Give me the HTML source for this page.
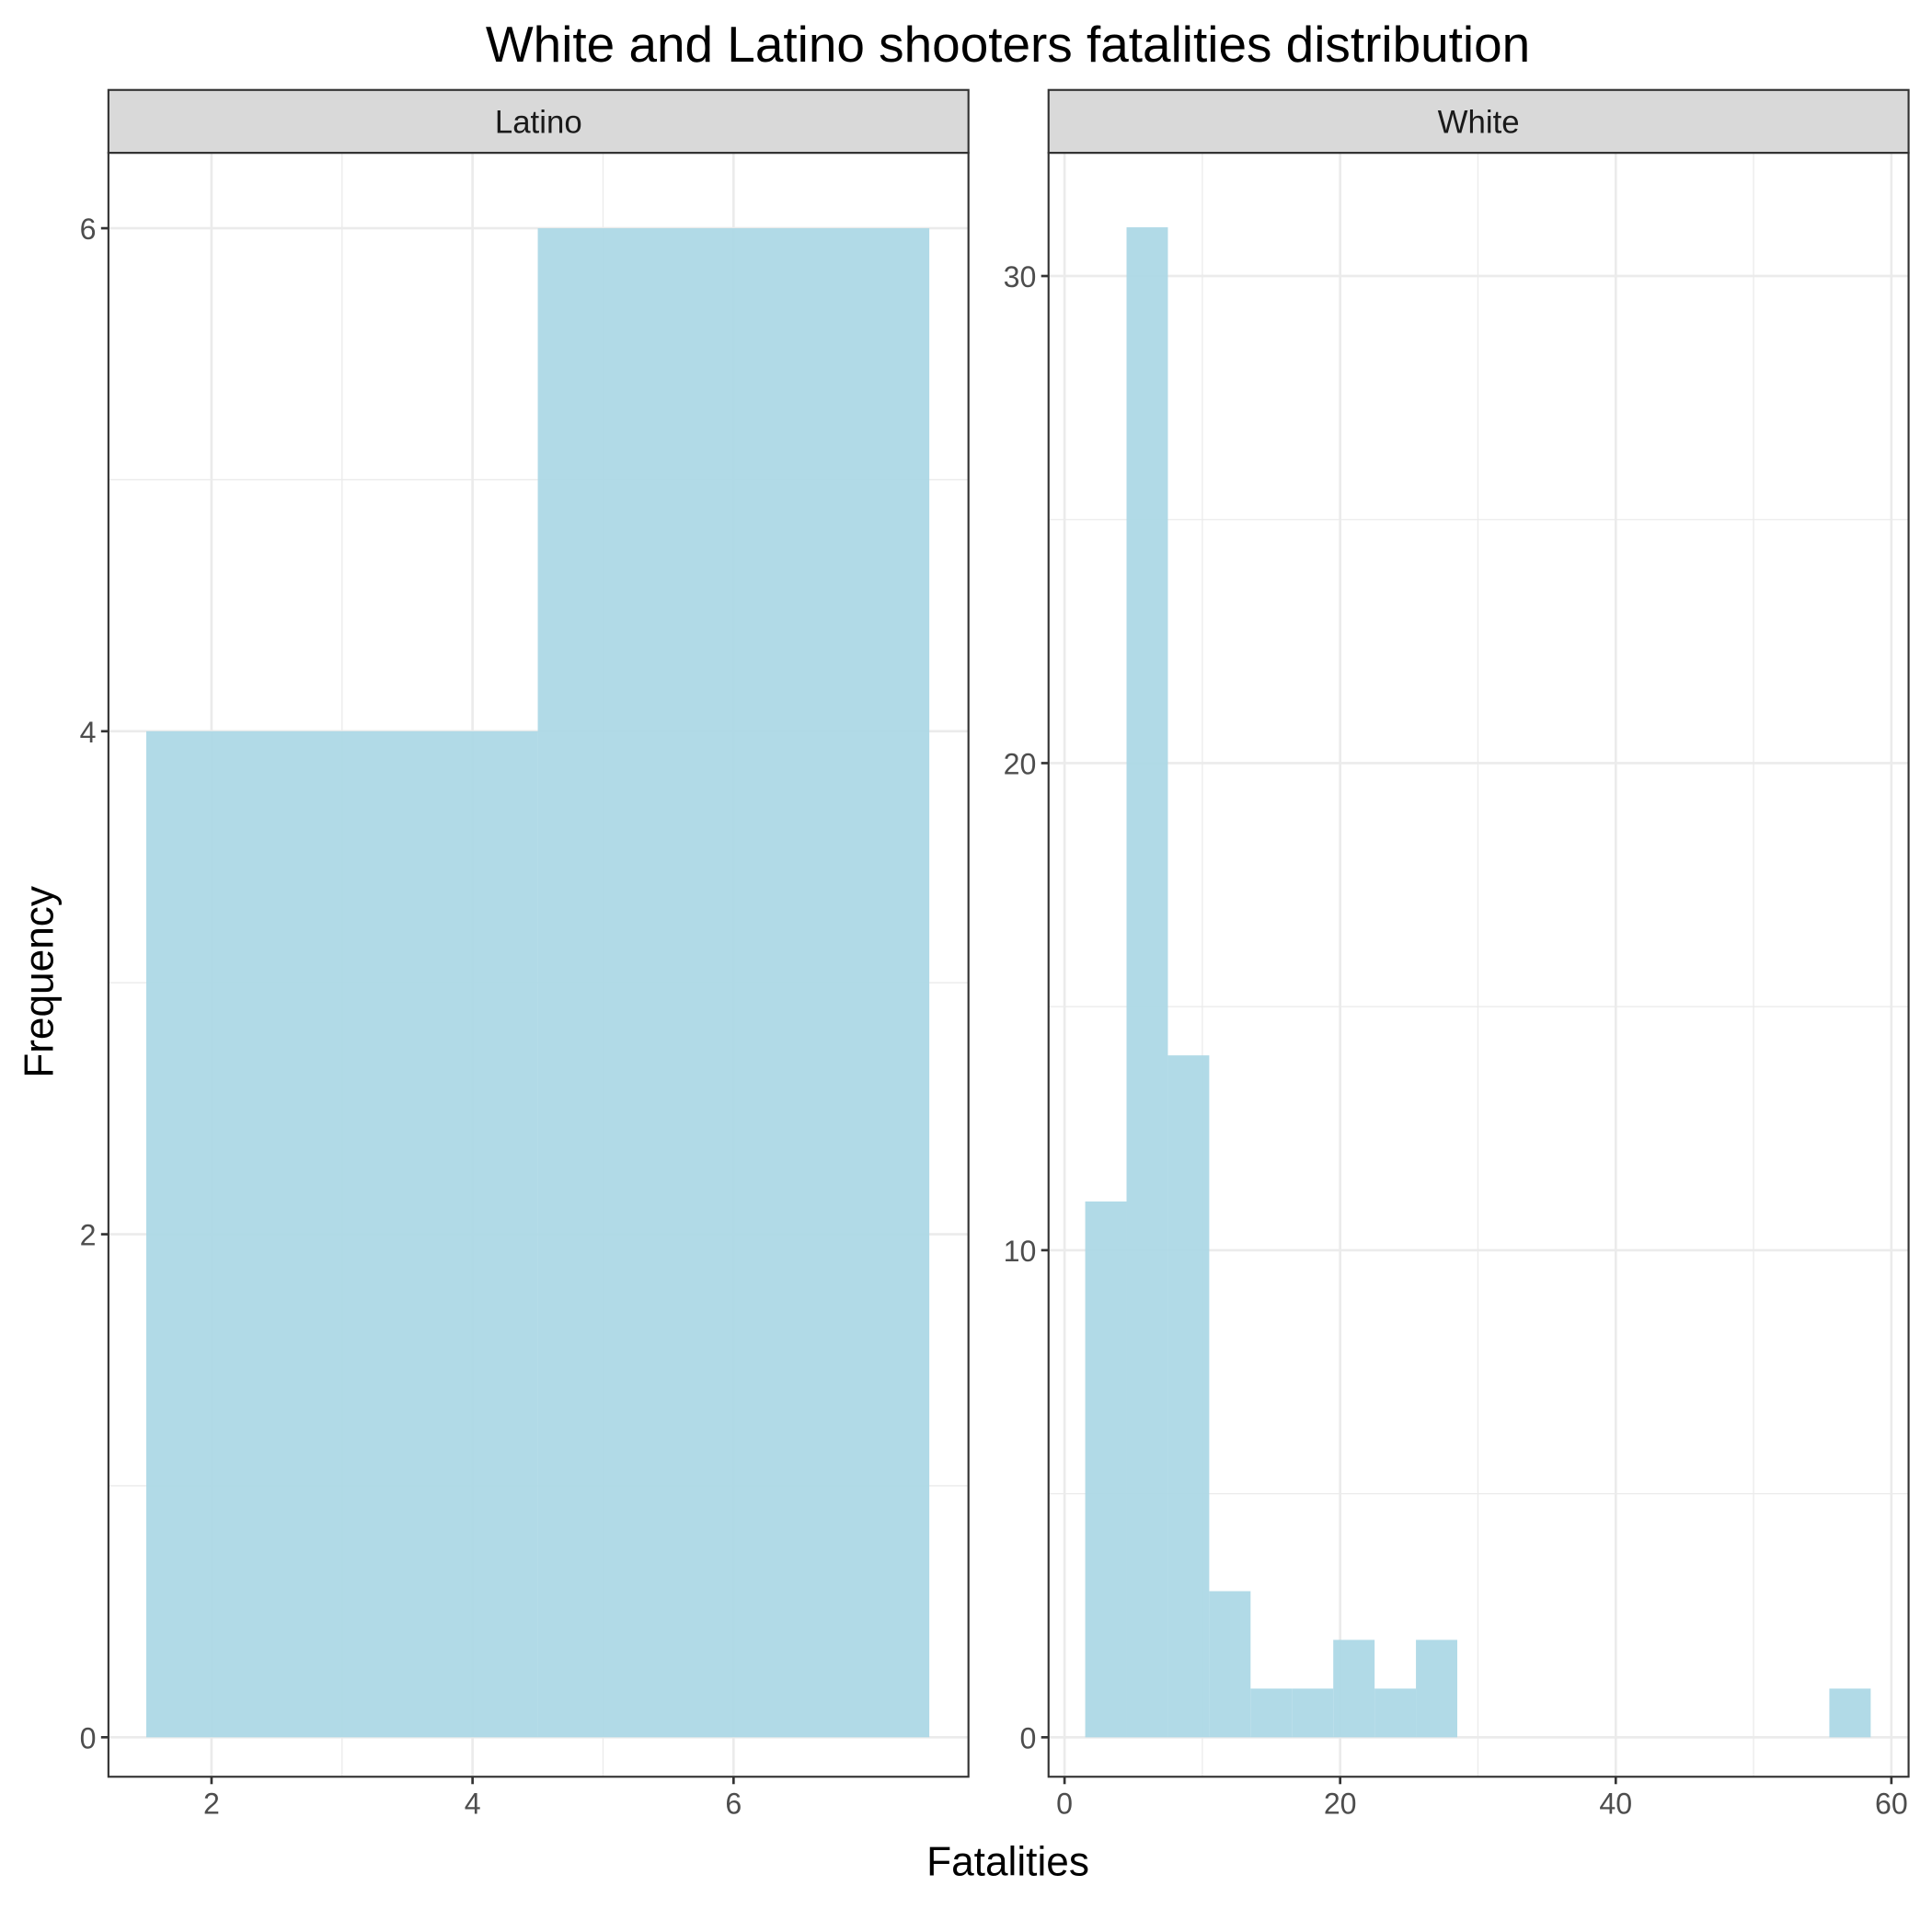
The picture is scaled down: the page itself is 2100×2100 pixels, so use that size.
<!DOCTYPE html>
<html><head><meta charset="utf-8"><style>html,body{margin:0;padding:0;background:#fff}svg{display:block}text{font-family:"Liberation Sans",sans-serif}</style></head>
<body>
<svg id="chart" width="2100" height="2100" viewBox="0 0 1568 1568" xmlns="http://www.w3.org/2000/svg">
<text x="818" y="50" font-size="41" text-anchor="middle" fill="#000">White and Latino shooters fatalities distribution</text>
<text x="818" y="1522" font-size="33" text-anchor="middle" fill="#000">Fatalities</text>
<text x="0" y="0" font-size="33" text-anchor="middle" fill="#000" transform="translate(43,797) rotate(-90)">Frequency</text>
<g id="panels"></g>
</svg>
<script>
const latinoBinStarts = [1.5, 4.5];
const latinoCounts = [4, 6];
const latinoBinWidth = 3;
const latinoXTicks = [2, 4, 6];
const latinoYTicks = [0, 2, 4, 6];
const whiteBinStarts = [1.5, 4.5, 7.5, 10.5, 13.5, 16.5, 19.5, 22.5, 25.5, 55.5];
const whiteCounts = [11, 31, 14, 3, 1, 1, 2, 1, 2, 1];
const whiteBinWidth = 3;
const whiteXTicks = [0, 20, 40, 60];
const whiteYTicks = [0, 10, 20, 30];

const NS = 'http://www.w3.org/2000/svg';
const root = document.getElementById('panels');
function mk(tag, attrs, parent) {
  const e = document.createElementNS(NS, tag);
  for (const k in attrs) e.setAttribute(k, attrs[k]);
  (parent || root).appendChild(e);
  return e;
}
function panel(cfg) {
  const g = mk('g', {});
  
  
  const L = cfg.left, R = cfg.right, T = 124, B = 1442;
  const sx = v => L + (v - cfg.xmin) / (cfg.xmax - cfg.xmin) * (R - L);
  const sy = v => B - (v - cfg.ymin) / (cfg.ymax - cfg.ymin) * (B - T);
  mk('rect', {x: L, y: T, width: R - L, height: B - T, fill: '#fff'}, g);
  const xs = cfg.xTicks, ys = cfg.yTicks;
  for (let i = 0; i < xs.length - 1; i++) {
    const m = (xs[i] + xs[i + 1]) / 2;
    const gl = mk('line', {x1: sx(m), x2: sx(m), y1: T, y2: B, stroke: '#ebebeb', 'stroke-width': 1}, g);
    
    
  }
  for (let i = 0; i < ys.length - 1; i++) {
    const m = (ys[i] + ys[i + 1]) / 2;
    const gl = mk('line', {x1: L, x2: R, y1: sy(m), y2: sy(m), stroke: '#ebebeb', 'stroke-width': 1}, g);
    
    
  }
  xs.forEach(v => {
    const gl = mk('line', {x1: sx(v), x2: sx(v), y1: T, y2: B, stroke: '#ebebeb', 'stroke-width': 2}, g);
    
    
    mk('line', {x1: sx(v), x2: sx(v), y1: B, y2: B + 6, stroke: '#333', 'stroke-width': 2}, g);
    const t = mk('text', {x: sx(v), y: B + 30, 'font-size': 24, 'text-anchor': 'middle', fill: '#4d4d4d'}, g);
    t.textContent = v;
    
    
  });
  ys.forEach(v => {
    const gl = mk('line', {x1: L, x2: R, y1: sy(v), y2: sy(v), stroke: '#ebebeb', 'stroke-width': 2}, g);
    
    
    mk('line', {x1: L - 6, x2: L, y1: sy(v), y2: sy(v), stroke: '#333', 'stroke-width': 2}, g);
    const t = mk('text', {x: L - 10, y: sy(v) + 9, 'font-size': 24, 'text-anchor': 'end', fill: '#4d4d4d'}, g);
    t.textContent = v;
    
    
  });
  cfg.starts.forEach((s, i) => {
    const c = cfg.counts[i];
    const r = mk('rect', {x: sx(s), y: sy(c), width: sx(s + cfg.bw) - sx(s), height: sy(0) - sy(c), fill: '#add8e6', 'fill-opacity': 0.95}, g);
    
    
  });
  mk('rect', {x: L, y: T, width: R - L, height: B - T, fill: 'none', stroke: '#333', 'stroke-width': 1.6}, g);
  const strip = mk('rect', {x: L, y: 73, width: R - L, height: 51, fill: '#d9d9d9', stroke: '#333', 'stroke-width': 1.6}, g);
  
  
  const st = mk('text', {x: (L + R) / 2, y: 108, 'font-size': 26, 'text-anchor': 'middle', fill: '#1a1a1a'}, g);
  st.textContent = cfg.label;
  
  
}
panel({name: 'latino', label: 'Latino', left: 88, right: 786, xmin: 1.21, xmax: 7.80, ymin: -0.157, ymax: 6.3,
  xTicks: latinoXTicks, yTicks: latinoYTicks, starts: latinoBinStarts, counts: latinoCounts, bw: latinoBinWidth});
panel({name: 'white', label: 'White', left: 851, right: 1549, xmin: -1.16, xmax: 61.25, ymin: -0.81, ymax: 32.53,
  xTicks: whiteXTicks, yTicks: whiteYTicks, starts: whiteBinStarts, counts: whiteCounts, bw: whiteBinWidth});
</script>
</body></html>
